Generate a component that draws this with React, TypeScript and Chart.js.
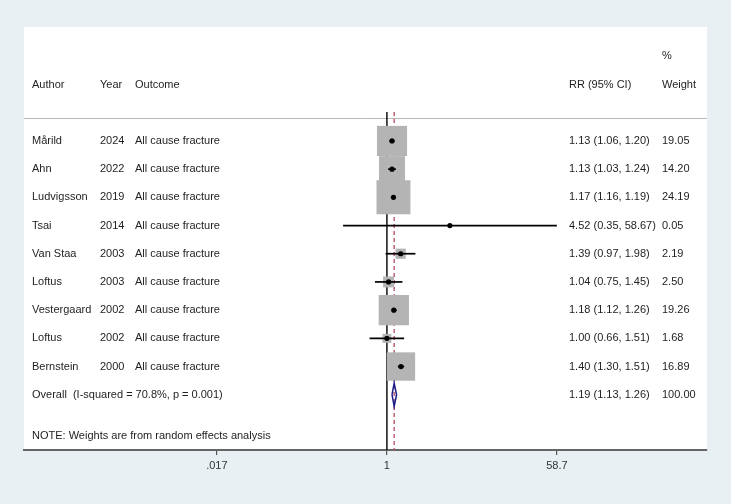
import React, { useEffect, useRef } from 'react';
import { Chart, registerables } from 'chart.js';

Chart.register(...registerables);

// ---------- data ----------
const authors = ['Mårild', 'Ahn', 'Ludvigsson', 'Tsai', 'Van Staa', 'Loftus', 'Vestergaard', 'Loftus', 'Bernstein'];
const years = ['2024', '2022', '2019', '2014', '2003', '2003', '2002', '2002', '2000'];
const outcomes = [
  'All cause fracture', 'All cause fracture', 'All cause fracture', 'All cause fracture', 'All cause fracture',
  'All cause fracture', 'All cause fracture', 'All cause fracture', 'All cause fracture',
];
const rr = [1.13, 1.13, 1.17, 4.52, 1.39, 1.04, 1.18, 1.0, 1.4];
const ciLow = [1.06, 1.03, 1.16, 0.35, 0.97, 0.75, 1.12, 0.66, 1.3];
const ciHigh = [1.2, 1.24, 1.19, 58.67, 1.98, 1.45, 1.26, 1.51, 1.51];
const weights = [19.05, 14.2, 24.19, 0.05, 2.19, 2.5, 19.26, 1.68, 16.89];
const overallEstimate = [1.19, 1.13, 1.26]; // RR, low, high
const overallWeight = 100.0;
const overallLabel = 'Overall  (I-squared = 70.8%, p = 0.001)';
const noteText = 'NOTE: Weights are from random effects analysis';
const tickValues = [0.017, 1, 58.7];
const tickLabels = ['.017', '1', '58.7'];
const headerCols = ['Author', 'Year', 'Outcome', 'RR (95% CI)', 'Weight'];

// ---------- layout / style ----------
const FONT = '"Liberation Sans", Arial, Helvetica, sans-serif';
const TEXT_COLOR = '#1e1e1e';
const colX = [32, 100, 135, 569, 662];
const X_MIN = 1.674e-4;
const X_MAX = 2141;
const Y_MIN = -4.04;
const Y_MAX = 10.96;
const LINE_TOP = -1.03;
const SEP_ROW = -0.82;
const HEADER_ROW = -2.0;
const PCT_ROW = -3.0;
const NOTE_ROW = 10.46;
const BOX_SCALE = 6.9; // px side per sqrt(weight)

const fmt = (v: number) => v.toFixed(2);

const bgPlugin = {
  id: 'forestBg',
  beforeDraw(chart: any) {
    const { ctx, chartArea: a, width, height } = chart;
    ctx.save();
    ctx.fillStyle = '#e9f0f3';
    ctx.fillRect(0, 0, width, height);
    ctx.fillStyle = '#ffffff';
    ctx.fillRect(a.left, a.top, a.right - a.left, a.bottom - a.top);
    const y = chart.scales.y.getPixelForValue(SEP_ROW);
    ctx.strokeStyle = '#b9b9b9';
    ctx.lineWidth = 1;
    ctx.beginPath();
    ctx.moveTo(a.left, Math.round(y) + 0.5);
    ctx.lineTo(a.right, Math.round(y) + 0.5);
    ctx.stroke();
    ctx.restore();
  },
};

const textPlugin = {
  id: 'forestText',
  afterDraw(chart: any) {
    const { ctx } = chart;
    const ys = chart.scales.y;
    ctx.save();
    ctx.font = `11px ${FONT}`;
    ctx.fillStyle = TEXT_COLOR;
    ctx.textBaseline = 'middle';
    ctx.textAlign = 'left';
    // headers
    ctx.fillText('%', colX[4], ys.getPixelForValue(PCT_ROW));
    headerCols.forEach((h, i) => ctx.fillText(h, colX[i], ys.getPixelForValue(HEADER_ROW)));
    // study rows
    authors.forEach((a, i) => {
      const y = ys.getPixelForValue(i);
      ctx.fillText(a, colX[0], y);
      ctx.fillText(years[i], colX[1], y);
      ctx.fillText(outcomes[i], colX[2], y);
      ctx.fillText(`${fmt(rr[i])} (${fmt(ciLow[i])}, ${fmt(ciHigh[i])})`, colX[3], y);
      ctx.fillText(fmt(weights[i]), colX[4], y);
    });
    // overall
    const yo = ys.getPixelForValue(authors.length);
    ctx.fillText(overallLabel, colX[0], yo);
    ctx.fillText(
      `${fmt(overallEstimate[0])} (${fmt(overallEstimate[1])}, ${fmt(overallEstimate[2])})`,
      colX[3],
      yo
    );
    ctx.fillText(fmt(overallWeight), colX[4], yo);
    ctx.fillText(noteText, colX[0], ys.getPixelForValue(NOTE_ROW));
    ctx.restore();
  },
};

export default function App() {
  const ref = useRef<HTMLCanvasElement | null>(null);

  useEffect(() => {
    if (!ref.current) return;
    const n = authors.length;
    const ciDatasets = rr.map((_, i) => ({
      type: 'line' as const,
      data: [
        { x: ciLow[i], y: i },
        { x: ciHigh[i], y: i },
      ],
      borderColor: '#000000',
      borderWidth: 1.7,
      pointRadius: 0,
      order: 5,
    }));
    const chart = new Chart(ref.current, {
      type: 'scatter',
      data: {
        datasets: [
          {
            type: 'line',
            data: [
              { x: 1, y: LINE_TOP },
              { x: 1, y: Y_MAX },
            ],
            borderColor: '#000000',
            borderWidth: 1.4,
            pointRadius: 0,
            order: 21,
          },
          {
            type: 'line',
            data: [
              { x: overallEstimate[0], y: LINE_TOP },
              { x: overallEstimate[0], y: Y_MAX },
            ],
            borderColor: '#b8566a',
            borderWidth: 1.4,
            borderDash: [4, 3],
            pointRadius: 0,
            order: 20,
          },
          {
            type: 'scatter',
            data: rr.map((v, i) => ({ x: v, y: i })),
            pointStyle: 'rect',
            pointRadius: weights.map((w) => (BOX_SCALE * Math.sqrt(w)) / Math.SQRT2),
            backgroundColor: '#b4b4b4',
            borderWidth: 0,
            order: 10,
          },
          ...ciDatasets,
          {
            type: 'scatter',
            data: rr.map((v, i) => ({ x: v, y: i })),
            pointStyle: 'circle',
            pointRadius: 2.6,
            backgroundColor: '#000000',
            borderWidth: 0,
            order: 1,
          },
          {
            type: 'line',
            data: [
              { x: overallEstimate[1], y: n },
              { x: overallEstimate[0], y: n - 0.41 },
              { x: overallEstimate[2], y: n },
              { x: overallEstimate[0], y: n + 0.41 },
              { x: overallEstimate[1], y: n },
            ],
            borderColor: '#1c1c8a',
            borderWidth: 1.5,
            pointRadius: 0,
            fill: false,
            tension: 0,
            order: 2,
          },
        ],
      } as any,
      options: {
        responsive: false,
        animation: false,
        devicePixelRatio: 1,
        events: [],
        layout: { padding: { left: 24, top: 27, right: 20, bottom: 0 } },
        plugins: { legend: { display: false }, tooltip: { enabled: false } },
        scales: {
          x: {
            type: 'logarithmic',
            min: X_MIN,
            max: X_MAX,
            afterBuildTicks: (scale: any) => {
              scale.ticks = tickValues.map((v) => ({ value: v }));
            },
            afterFit: (scale: any) => {
              scale.height = 54;
            },
            ticks: {
              autoSkip: false,
              maxRotation: 0,
              padding: 4,
              color: '#333333',
              font: { size: 11, family: FONT },
              callback: (_v: any, i: number) => tickLabels[i],
            },
            grid: { drawOnChartArea: false, drawTicks: true, tickLength: 5, color: '#555555', lineWidth: 1.2 },
            border: { display: true, color: '#666666', width: 2 },
          },
          y: {
            type: 'linear',
            reverse: true,
            min: Y_MIN,
            max: Y_MAX,
            display: false,
          },
        },
      } as any,
      plugins: [bgPlugin, textPlugin],
    });
    return () => chart.destroy();
  }, []);

  return (
    <div style={{ position: 'absolute', left: 0, top: 0, width: 731, height: 504 }}>
      <canvas ref={ref} width={731} height={504} style={{ display: 'block' }} />
    </div>
  );
}
